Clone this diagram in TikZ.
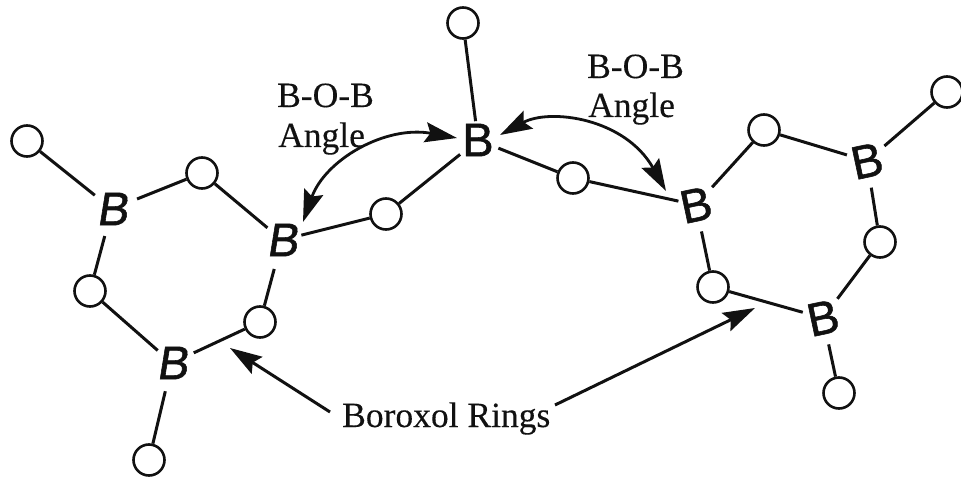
\documentclass[tikz,border=0pt]{standalone}
\usepackage{fontspec}
\setmainfont{Liberation Serif}[FakeBold=0.25]
\newfontfamily\boronfont[FakeBold=1.2]{Liberation Sans}
\newfontfamily\boronslant[FakeSlant=0.16,FakeBold=1.2]{Liberation Sans}
\usetikzlibrary{arrows.meta}
\definecolor{ink}{HTML}{111111}
\tikzset{
  oxy/.style={circle,draw=ink,line width=2.6pt,minimum size=31pt,inner sep=0pt},
  boron/.style={inner sep=0pt,text=ink,font=\boronfont\fontsize{47}{47}\selectfont},
  boronL/.style={inner sep=0pt,text=ink,font=\boronslant\fontsize{47}{47}\selectfont},
  boronR/.style={boron,rotate=12},
  bond/.style={draw=ink,line width=3pt},
  lbl/.style={anchor=base west,inner sep=0pt,text=ink,font=\fontsize{35.5}{35.5}\selectfont},
  pointer/.style={draw=ink,line width=3pt,-{Stealth[length=32pt,width=20pt,inset=5pt]}},
  swing/.style={draw=ink,line width=2.8pt,{Stealth[length=32pt,width=20pt,inset=5pt]}-{Stealth[length=32pt,width=20pt,inset=5pt]}}
}
\begin{document}
\begin{tikzpicture}[x=1pt,y=-1pt]
\useasboundingbox (0,0) rectangle (961,478);
% centre
\node[boron] (bc) at (478,140) {B};
\node[oxy] (ot) at (463,23) {};
\node[oxy] (ol) at (386,214) {};
\node[oxy] (or) at (573,178) {};
% left ring
\node[boronL] (l1) at (112,209) {B};
\node[boronL] (l2) at (282,240) {B};
\node[boronL] (l3) at (172,363) {B};
\node[oxy] (l4) at (27,141) {};
\node[oxy] (l5) at (202,173) {};
\node[oxy] (l6) at (260,322) {};
\node[oxy] (l7) at (90,291) {};
\node[oxy] (l8) at (149,460) {};
% right ring
\node[boronR] (r1) at (696,205) {B};
\node[boronR] (r2) at (867,161) {B};
\node[boronR] (r3) at (823,318) {B};
\node[oxy] (r4) at (764,130) {};
\node[oxy] (r5) at (947,92) {};
\node[oxy] (r6) at (880,242) {};
\node[oxy] (r7) at (713,287) {};
\node[oxy] (r8) at (839,393) {};
% bonds: boron centre to oxygen, held back from the letter by a measured gap
\foreach \a/\b/\g in {bc/ot/19,bc/ol/23,bc/or/22,l2/ol/20,r1/or/18,
  l1/l4/22,l1/l5/27,l2/l5/19,l2/l6/30,l3/l6/24,l3/l7/19,l1/l7/28,l3/l8/29,
  r1/r4/24,r2/r4/21,r2/r5/23,r2/r6/27,r3/r6/24,r3/r7/21,r1/r7/27,r3/r8/27}
  \draw[bond,shorten <=\g pt] (\a.center) -- (\b);
% labels
\node[lbl] (t1) at (277,107) {B-O-B};
\node[lbl] (t2) at (278,147) {Angle};
\node[lbl] (t3) at (587,78) {B-O-B};
\node[lbl] (t4) at (588,117) {Angle};
\node[lbl] (t5) at (342,427) {Boroxol Rings};
% arrows
\coordinate (a1) at (303,222);
\coordinate (a2) at (457,138);
\coordinate (a3) at (500,135);
\coordinate (a4) at (666,191);
\coordinate (p1) at (230,348);
\coordinate (p2) at (755,308);
\coordinate (s1) at (330,412);
\coordinate (s2) at (555,405);
\draw[swing] (a1) .. controls (325,160) and (385,125) .. (a2);
\draw[swing] (a3) .. controls (550,108) and (625,118) .. (a4);
\draw[pointer] (s1) -- (p1);
\draw[pointer] (s2) -- (p2);
\end{tikzpicture}
\end{document}
